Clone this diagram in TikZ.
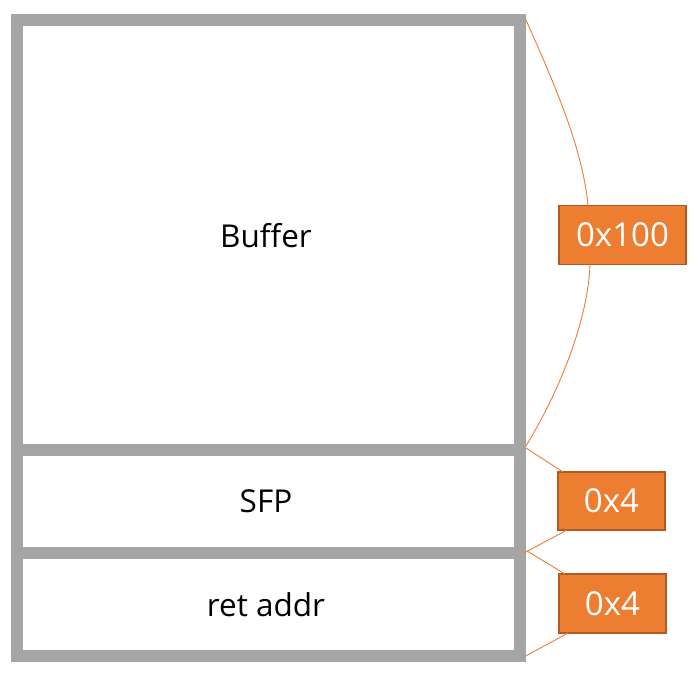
\documentclass[tikz,border=0pt]{standalone}
\usepackage{fontspec}
\setmainfont{Open Sans}
\begin{document}
\begin{tikzpicture}[x=1pt,y=-1pt,
  frame/.style={draw=framegray,line width=12pt},
  lbl/.style={font=\fontsize{31.5}{36}\selectfont,text=black},
  tag/.style={draw=tagborder,fill=tagorange,line width=1.5pt,text=white,font=\fontsize{33}{38}\selectfont,inner sep=0pt,anchor=center},
  conn/.style={draw=tagorange,line width=0.9pt}]
\definecolor{framegray}{HTML}{A5A5A5}
\definecolor{tagorange}{HTML}{ED7D31}
\definecolor{tagborder}{HTML}{AE5A21}
\useasboundingbox (0,0) rectangle (697,677);
% frame
\draw[frame] (17,20) rectangle (520,656);
\draw[frame] (11,450) -- (526,450);
\draw[frame] (11,553) -- (526,553);
% texts
\node[lbl] (buf) at (266,236) {Buffer};
\node[lbl] (sfp) at (266,501) {SFP};
\node[lbl] (ret) at (266,605) {ret addr};
% tags
\node[tag,minimum width=127pt,minimum height=59pt] (t1) at (622.5,235) {0x100};
\node[tag,minimum width=107pt,minimum height=58pt] (t2) at (611.5,501) {0x4};
\node[tag,minimum width=107pt,minimum height=59pt] (t3) at (612.5,603.5) {0x4};
% anchor points
\coordinate (c0) at (526,20);
\coordinate (c1) at (526,446);
\coordinate (c2) at (526,448);
\coordinate (c3) at (524,553);
\coordinate (c4) at (527,551);
\coordinate (c5) at (524,657);
\coordinate (t1a) at (588,205.5);
\coordinate (t1b) at (590,264.5);
\coordinate (t2a) at (563,472);
\coordinate (t2b) at (567,530);
\coordinate (t3a) at (565,574);
\coordinate (t3b) at (568,633);
% connectors
\draw[conn] (c0) .. controls (555,85) and (583,150) .. (t1a);
\draw[conn] (t1b) .. controls (588,320) and (560,390) .. (c1);
\draw[conn] (c2) -- (t2a);
\draw[conn] (t2b) -- (c3);
\draw[conn] (c4) -- (t3a);
\draw[conn] (t3b) -- (c5);
\end{tikzpicture}
\end{document}
